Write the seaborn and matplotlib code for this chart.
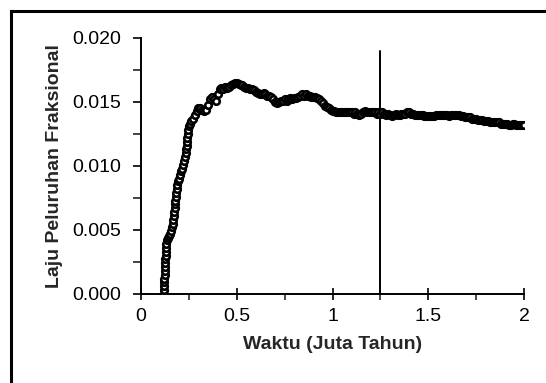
import matplotlib
matplotlib.use("Agg")
import matplotlib.pyplot as plt
import seaborn as sns
import pandas as pd
from matplotlib.patches import Rectangle
from matplotlib.ticker import MultipleLocator

# ---- data ----
x_rise = [0.118, 0.119, 0.120, 0.121, 0.122, 0.123, 0.124, 0.125, 0.126, 0.127,
          0.128, 0.129, 0.131, 0.133, 0.136, 0.140, 0.146, 0.152, 0.158, 0.162,
          0.166, 0.169, 0.172, 0.174, 0.176, 0.178, 0.180, 0.182, 0.184, 0.186,
          0.189, 0.193, 0.198, 0.204, 0.210, 0.216, 0.221, 0.226, 0.230, 0.233,
          0.236, 0.238, 0.240, 0.242, 0.244, 0.247, 0.251, 0.256, 0.262]
y_rise = [0.0000, 0.0003, 0.0006, 0.0009, 0.0012, 0.0015, 0.0018, 0.0021, 0.0024, 0.0027,
          0.0030, 0.0033, 0.0036, 0.0039, 0.0042, 0.0044, 0.0045, 0.0047, 0.0049, 0.0052,
          0.0055, 0.0058, 0.0061, 0.0064, 0.0067, 0.0070, 0.0073, 0.0076, 0.0079, 0.0082,
          0.0085, 0.0088, 0.0090, 0.0093, 0.0096, 0.0098, 0.0101, 0.0104, 0.0107, 0.0110,
          0.0113, 0.0116, 0.0119, 0.0122, 0.0125, 0.0128, 0.0131, 0.0133, 0.0135]

x_plateau = [0.27, 0.28, 0.29, 0.30, 0.31, 0.32, 0.33, 0.34, 0.35, 0.36,
             0.37, 0.38, 0.39, 0.40, 0.41, 0.42, 0.43, 0.44, 0.45, 0.46,
             0.47, 0.48, 0.49, 0.50, 0.51, 0.52, 0.53, 0.54, 0.55, 0.56,
             0.57, 0.58, 0.59, 0.60, 0.61, 0.62, 0.63, 0.64, 0.65, 0.66,
             0.67, 0.68, 0.69, 0.70, 0.71, 0.72, 0.73, 0.74, 0.75, 0.76,
             0.77, 0.78, 0.79, 0.80, 0.81, 0.82, 0.83, 0.84, 0.85, 0.86,
             0.87, 0.88, 0.89, 0.90, 0.91, 0.92, 0.93, 0.94, 0.95, 0.96,
             0.97, 0.98, 0.99, 1.00, 1.01, 1.02, 1.03, 1.04, 1.05, 1.06,
             1.07, 1.08, 1.09, 1.10, 1.11, 1.12, 1.13, 1.14, 1.15, 1.16,
             1.17, 1.18, 1.19, 1.20, 1.21, 1.22, 1.23, 1.24, 1.25, 1.26,
             1.27, 1.28, 1.29, 1.30, 1.31, 1.32, 1.33, 1.34, 1.35, 1.36,
             1.37, 1.38, 1.39, 1.40, 1.41, 1.42, 1.43, 1.44, 1.45, 1.46,
             1.47, 1.48, 1.49, 1.50, 1.51, 1.52, 1.53, 1.54, 1.55, 1.56,
             1.57, 1.58, 1.59, 1.60, 1.61, 1.62, 1.63, 1.64, 1.65, 1.66,
             1.67, 1.68, 1.69, 1.70, 1.71, 1.72, 1.73, 1.74, 1.75, 1.76,
             1.77, 1.78, 1.79, 1.80, 1.81, 1.82, 1.83, 1.84, 1.85, 1.86,
             1.87, 1.88, 1.89, 1.90, 1.91, 1.92, 1.93, 1.94, 1.95, 1.96,
             1.97, 1.98, 1.99, 2.00]
y_plateau = [0.0137, 0.0140, 0.0143, 0.0145, 0.0145, 0.0144, 0.0143, 0.0144, 0.0148, 0.0152,
             0.0154, 0.0152, 0.0151, 0.0156, 0.0160, 0.0161, 0.0160, 0.0162, 0.0161, 0.0162,
             0.0163, 0.0164, 0.0165, 0.0165, 0.0164, 0.0163, 0.0163, 0.0162, 0.0161, 0.0161,
             0.0160, 0.0160, 0.0159, 0.0158, 0.0157, 0.0156, 0.0156, 0.0157, 0.0156, 0.0155,
             0.0155, 0.0154, 0.0152, 0.0150, 0.0149, 0.0150, 0.0151, 0.0151, 0.0152, 0.0151,
             0.0152, 0.0153, 0.0152, 0.0153, 0.0153, 0.0154, 0.0155, 0.0156, 0.0155, 0.0156,
             0.0155, 0.0155, 0.0154, 0.0154, 0.0154, 0.0153, 0.0152, 0.0151, 0.0149, 0.0147,
             0.0146, 0.0145, 0.0144, 0.0143, 0.0143, 0.0142, 0.0142, 0.0142, 0.0142, 0.0142,
             0.0142, 0.0142, 0.0142, 0.0142, 0.0141, 0.0142, 0.0141, 0.0140, 0.0141, 0.0142,
             0.0143, 0.0142, 0.0142, 0.0142, 0.0142, 0.0142, 0.0141, 0.0142, 0.0141, 0.0142,
             0.0141, 0.0140, 0.0141, 0.0140, 0.0139, 0.0140, 0.0141, 0.0140, 0.0140, 0.0141,
             0.0141, 0.0141, 0.0142, 0.0142, 0.0141, 0.0141, 0.0140, 0.0140, 0.0140, 0.0140,
             0.0140, 0.0139, 0.0139, 0.0139, 0.0139, 0.0139, 0.0139, 0.0140, 0.0140, 0.0140,
             0.0140, 0.0140, 0.0140, 0.0140, 0.0139, 0.0140, 0.0140, 0.0140, 0.0140, 0.0140,
             0.0139, 0.0139, 0.0138, 0.0138, 0.0138, 0.0138, 0.0137, 0.0137, 0.0137, 0.0136,
             0.0136, 0.0136, 0.0135, 0.0135, 0.0135, 0.0134, 0.0134, 0.0134, 0.0134, 0.0134,
             0.0134, 0.0133, 0.0133, 0.0133, 0.0133, 0.0132, 0.0132, 0.0133, 0.0133, 0.0132,
             0.0132, 0.0132, 0.0132, 0.0132]

vline_x = 1.25
vline_top = 0.019

x_ticks = [0, 0.5, 1, 1.5, 2]
x_tick_labels = ["0", "0.5", "1", "1.5", "2"]
y_ticks = [0.000, 0.005, 0.010, 0.015, 0.020]
y_tick_labels = ["0.000", "0.005", "0.010", "0.015", "0.020"]
x_label = "Waktu (Juta Tahun)"
y_label = "Laju Peluruhan Fraksional"

# ---- plotting ----
sns.set_style("ticks")
plt.rcParams["font.family"] = ["Liberation Sans", "DejaVu Sans"]

df = pd.DataFrame({"x": x_rise + x_plateau, "y": y_rise + y_plateau})

fig = plt.figure(figsize=(5.46, 3.83), dpi=100)
W, H = 546, 383
ax = fig.add_axes([141 / W, (H - 294) / H, 383 / W, 256 / H])

sns.scatterplot(data=df, x="x", y="y", ax=ax, marker="o", s=22,
                facecolor="white", edgecolor="black", linewidth=1.9,
                zorder=3, legend=False)
ax.plot([vline_x, vline_x], [0, vline_top], color="black", lw=1.4, zorder=2)

ax.set_xlim(0, 2)
ax.set_ylim(0, 0.020)
ax.set_xticks(x_ticks)
ax.set_xticklabels(x_tick_labels)
ax.set_yticks(y_ticks)
ax.set_yticklabels(y_tick_labels)
ax.xaxis.set_minor_locator(MultipleLocator(0.25))
ax.yaxis.set_minor_locator(MultipleLocator(0.0025))

for s in ["top", "right"]:
    ax.spines[s].set_visible(False)
for s in ["left", "bottom"]:
    ax.spines[s].set_linewidth(1.4)
    ax.spines[s].set_color("black")

FS = 14
ax.tick_params(axis="x", which="major", direction="inout", length=8, width=1.2,
               labelsize=FS, pad=6, colors="black")
ax.tick_params(axis="x", which="minor", direction="out", length=4, width=1.2)
ax.tick_params(axis="y", which="major", direction="out", length=6, width=1.2,
               labelsize=FS, pad=8, colors="black")
ax.tick_params(axis="y", which="minor", direction="out", length=6, width=1.2)

ax.set_xlabel(x_label, fontsize=FS, fontweight="bold", labelpad=8)
ax.set_ylabel(y_label, fontsize=FS, fontweight="bold", labelpad=7)

fig.patches.append(Rectangle((11 / W, -0.05), 1.2, (H - 11) / H + 0.05,
                             transform=fig.transFigure, fill=False,
                             edgecolor="black", linewidth=2.2))

fig.savefig("out.png", dpi=100)
